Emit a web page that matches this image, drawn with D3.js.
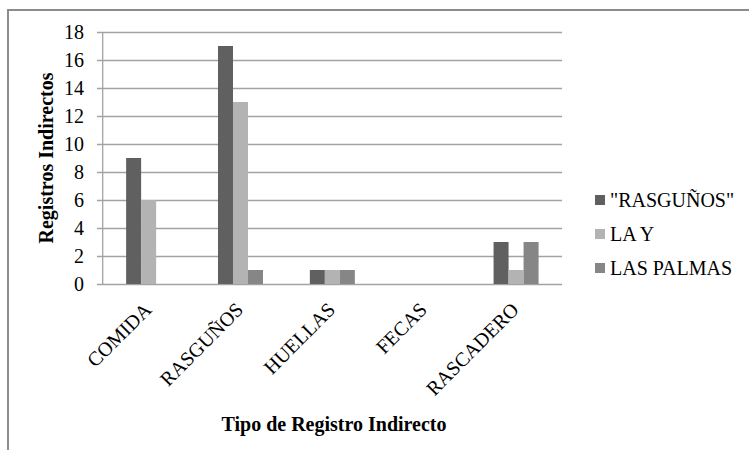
<!DOCTYPE html>
<html>
<head>
<meta charset="utf-8">
<script src="https://cdn.jsdelivr.net/npm/d3@7"></script>
<style>
  html, body { margin: 0; padding: 0; background: #fff; }
  svg { display: block; }
</style>
</head>
<body>
<script>
const categories = ["COMIDA", "RASGUÑOS", "HUELLAS", "FECAS", "RASCADERO"];
const seriesNames = ["\"RASGUÑOS\"", "LA Y", "LAS PALMAS"];
const seriesRasgunos = [9, 17, 1, 0, 3];
const seriesLaY = [6, 13, 1, 0, 1];
const seriesLasPalmas = [0, 1, 1, 0, 3];
const seriesColors = ["#606060", "#b3b3b3", "#868686"];
const yTicks = [0, 2, 4, 6, 8, 10, 12, 14, 16, 18];
const yTitle = "Registros Indirectos";
const xTitle = "Tipo de Registro Indirecto";

const FONT = "'Liberation Serif', 'Times New Roman', Times, serif";
const seriesValues = [seriesRasgunos, seriesLaY, seriesLasPalmas];
const W = 749, H = 450;
const plot = { left: 102.7, right: 562, top: 32, bottom: 284 };

const svg = d3.select("body").append("svg").attr("width", W).attr("height", H)
  .attr("font-family", FONT);

// outer frame
svg.append("rect").attr("x", 8).attr("y", 10).attr("width", W + 20).attr("height", H + 20)
  .attr("fill", "none").attr("stroke", "#8c8c8c").attr("stroke-width", 2);

const x0 = d3.scaleBand().domain(categories).range([plot.left, plot.right])
  .paddingInner(0.51).paddingOuter(0.255);
const x1 = d3.scaleBand().domain(d3.range(seriesNames.length)).range([0, x0.bandwidth()]);
const y = d3.scaleLinear().domain([0, 18]).range([plot.bottom, plot.top]);

// gridlines via axis
const gGrid = svg.append("g").attr("transform", `translate(${plot.right},0)`)
  .call(d3.axisLeft(y).tickValues(yTicks).tickSize(plot.right - 97).tickFormat(""));
gGrid.select(".domain").remove();
gGrid.selectAll("line").attr("stroke", "#a3a3a3").attr("stroke-width", 1.3);

// vertical axis line
svg.append("line").attr("x1", plot.left).attr("x2", plot.left)
  .attr("y1", y(18)).attr("y2", y(0)).attr("stroke", "#a3a3a3").attr("stroke-width", 1.3);

// y tick labels
svg.append("g").selectAll("text").data(yTicks).join("text")
  .attr("font-family", FONT)
  .attr("x", 84).attr("y", d => y(d)).attr("dy", "0.34em")
  .attr("text-anchor", "end").attr("font-size", 20).text(d => d);

// bars
const rows = categories.map((c, i) => ({ c, vals: seriesValues.map(s => s[i]) }));
svg.append("g").selectAll("g").data(rows).join("g")
  .attr("transform", d => `translate(${x0(d.c)},0)`)
  .selectAll("rect").data(d => d.vals.map((v, k) => ({ v, k }))).join("rect")
  .attr("x", d => x1(d.k)).attr("width", x1.bandwidth())
  .attr("y", d => y(d.v)).attr("height", d => y(0) - y(d.v))
  .attr("fill", d => seriesColors[d.k]);

// x labels rotated
svg.append("g").selectAll("text").data(categories).join("text")
  .attr("font-family", FONT)
  .attr("transform", d => `translate(${x0(d) + x0.bandwidth() / 2 + 4},${plot.bottom + 27}) rotate(-45)`)
  .attr("text-anchor", "end").attr("font-size", 20).text(d => d);

// y title
svg.append("text").attr("font-family", FONT)
  .attr("transform", `translate(53,${(plot.top + plot.bottom) / 2}) rotate(-90)`)
  .attr("text-anchor", "middle").attr("font-size", 20).attr("font-weight", "bold").text(yTitle);

// x title
svg.append("text").attr("font-family", FONT).attr("x", 334).attr("y", 431).attr("text-anchor", "middle")
  .attr("font-size", 20).attr("font-weight", "bold").text(xTitle);

// legend
const leg = svg.append("g").selectAll("g").data(seriesNames).join("g")
  .attr("transform", (d, i) => `translate(595,${200 + i * 34})`);
leg.append("rect").attr("x", 0).attr("y", -5).attr("width", 10).attr("height", 10)
  .attr("fill", (d, i) => seriesColors[i]);
leg.append("text").attr("font-family", FONT).attr("x", 15).attr("y", 7).attr("font-size", 20).text(d => d);
</script>
</body>
</html>
